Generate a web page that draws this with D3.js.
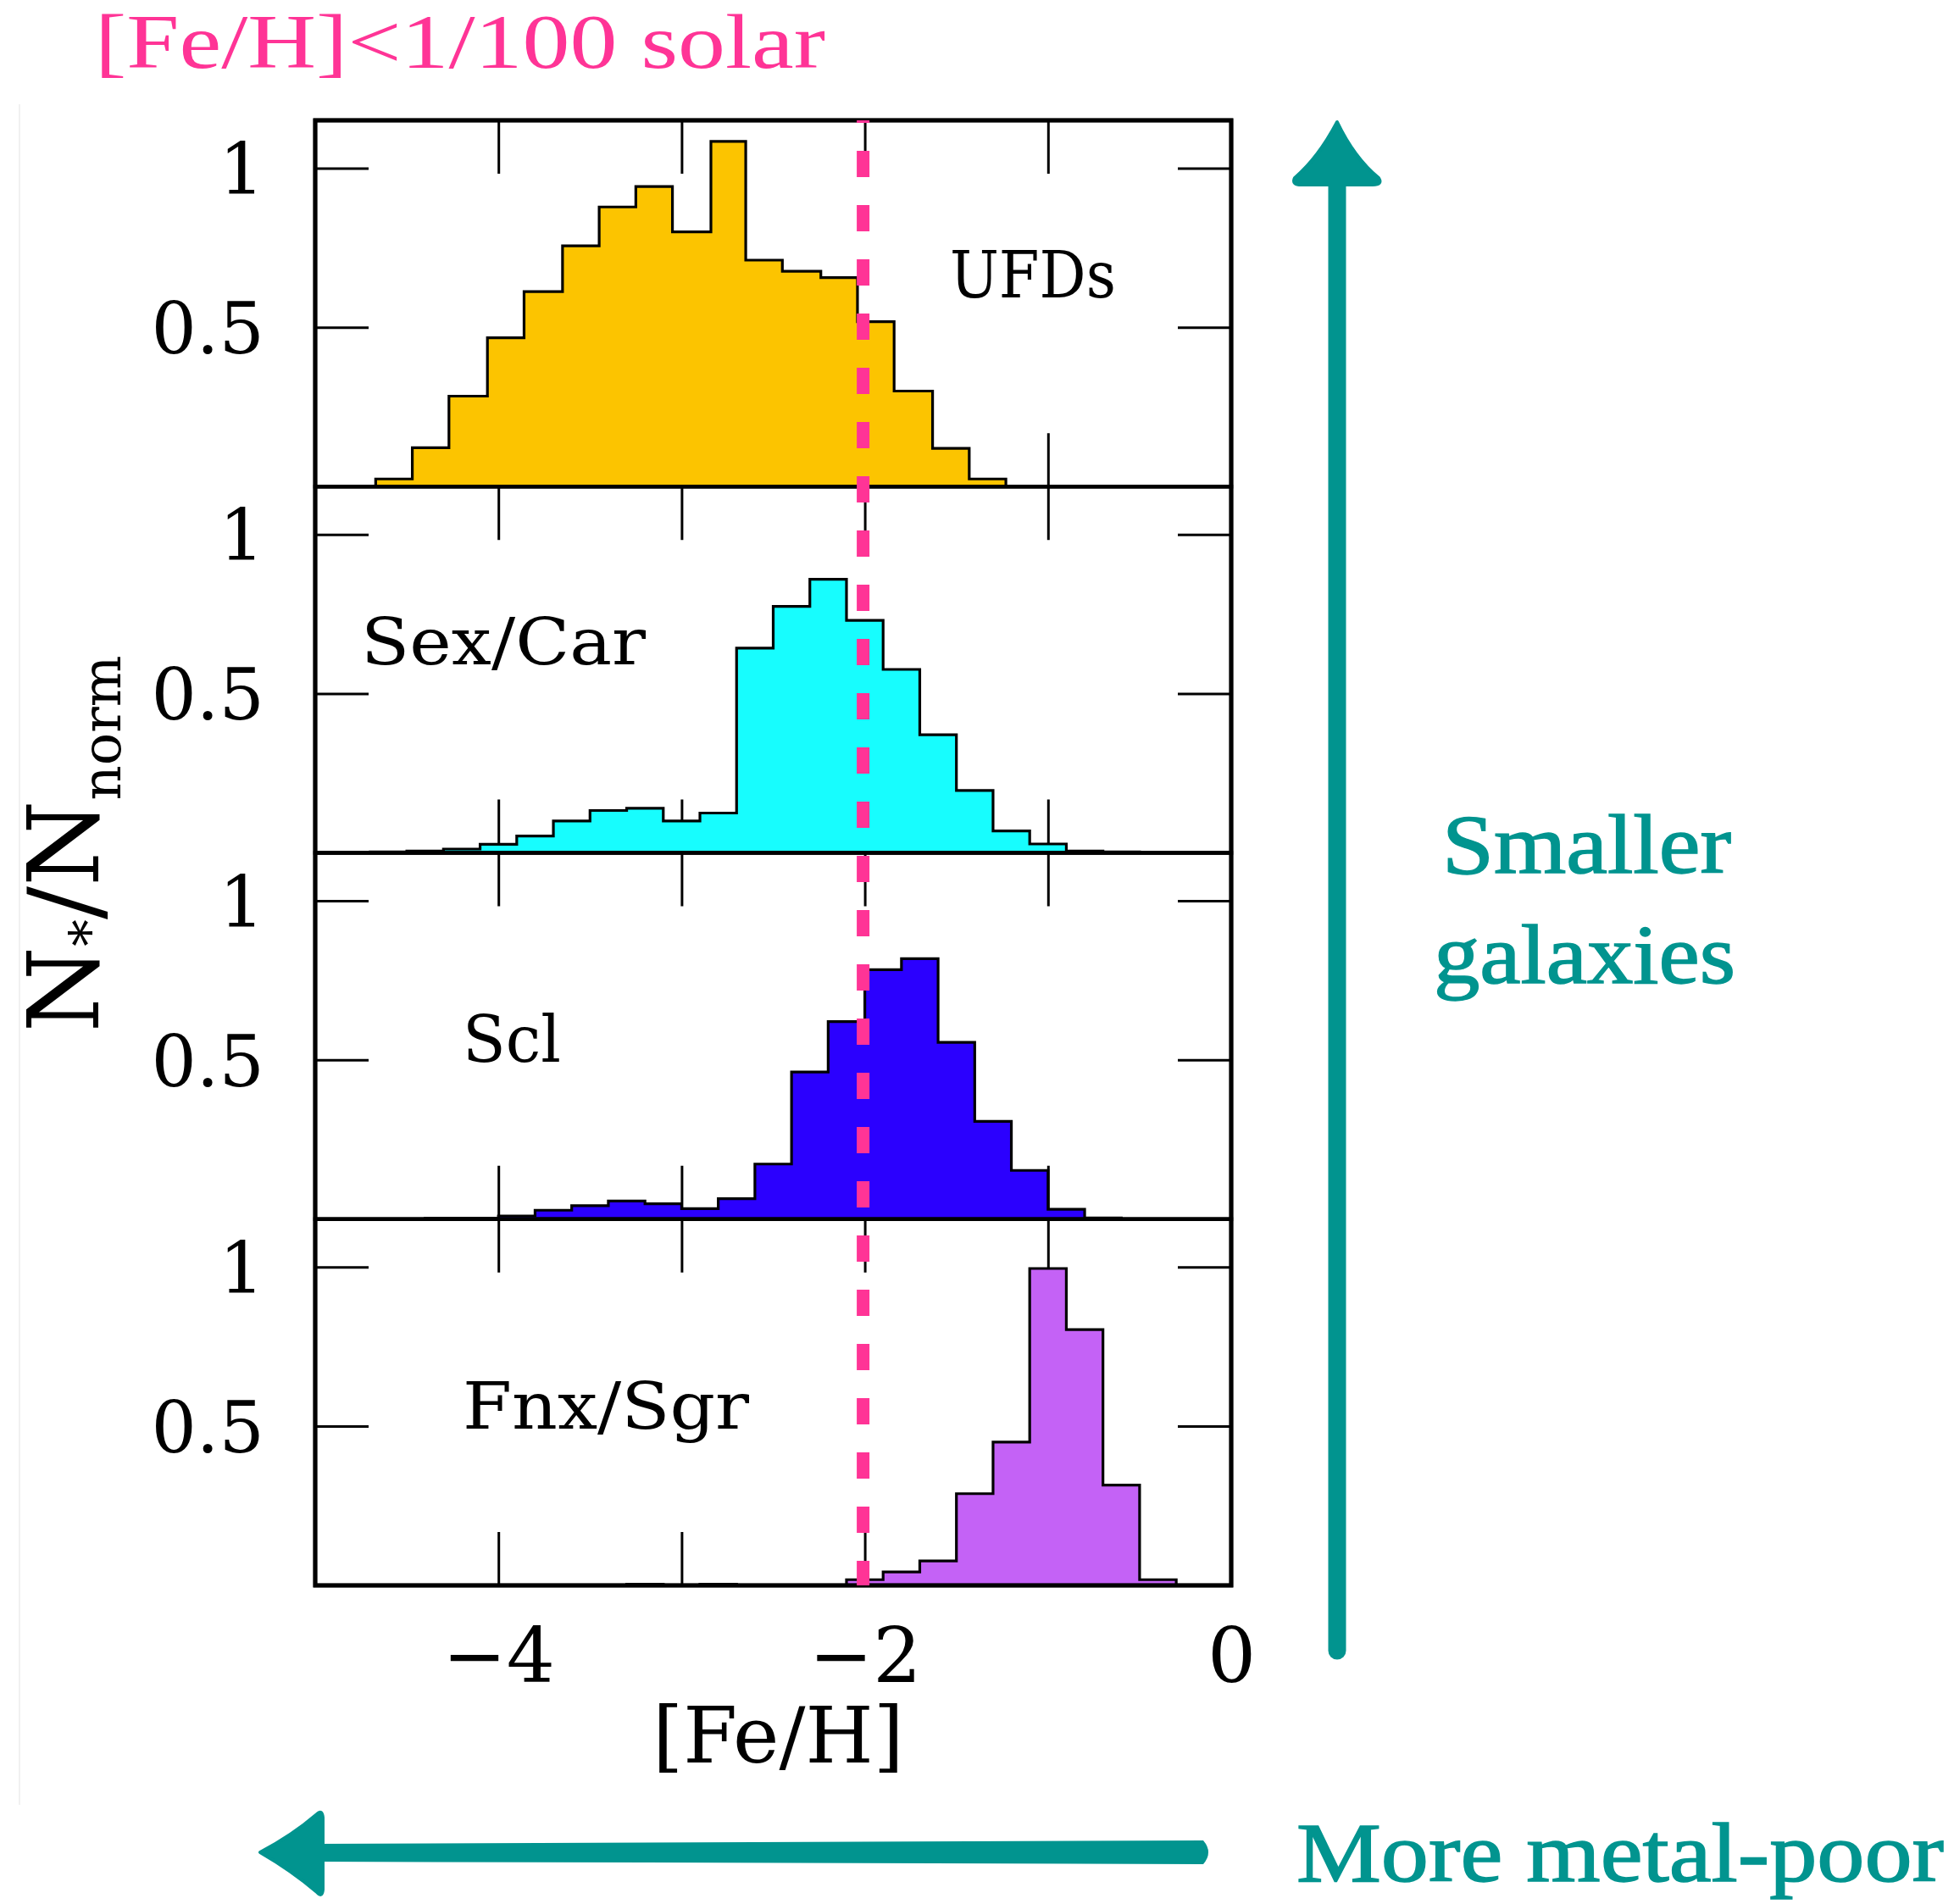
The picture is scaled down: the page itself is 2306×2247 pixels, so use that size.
<!DOCTYPE html>
<html>
<head>
<meta charset="utf-8">
<script src="https://cdn.jsdelivr.net/npm/d3@7"></script>
<style>
  body { margin: 0; background: #fff; }
</style>
</head>
<body>
<div id="chart"></div>
<script>
// Data
const panelNames = ["UFDs", "Sex/Car", "Scl", "Fnx/Sgr"];

const ufdEdges = [-4.67, -4.47, -4.27, -4.06, -3.86, -3.65, -3.45, -3.25, -3.05, -2.84, -2.65, -2.45, -2.24, -2.04, -1.84, -1.63, -1.43, -1.23];
const ufdValues = [0.024, 0.122, 0.284, 0.467, 0.612, 0.756, 0.878, 0.942, 0.8, 1.084, 0.711, 0.676, 0.656, 0.518, 0.3, 0.12, 0.024];

const sexCarEdges = [-4.7, -4.5, -4.3, -4.1, -3.9, -3.7, -3.5, -3.3, -3.1, -2.9, -2.7, -2.5, -2.3, -2.1, -1.9, -1.7, -1.5, -1.3, -1.1, -0.9, -0.7, -0.5];
const sexCarValues = [0.003, 0.006, 0.012, 0.027, 0.053, 0.1, 0.133, 0.14, 0.1, 0.125, 0.643, 0.774, 0.859, 0.73, 0.576, 0.371, 0.196, 0.069, 0.028, 0.006, 0.003];

const sclEdges = [-4.4, -4.2, -4.0, -3.8, -3.6, -3.4, -3.2, -3.0, -2.8, -2.6, -2.4, -2.2, -2.0, -1.8, -1.6, -1.4, -1.2, -1.0, -0.8, -0.6];
const sclValues = [0.003, 0.003, 0.01, 0.028, 0.042, 0.057, 0.048, 0.033, 0.064, 0.173, 0.462, 0.62, 0.783, 0.818, 0.555, 0.307, 0.153, 0.031, 0.004];

const fnxEdges = [-3.3, -3.1, -2.9, -2.7, -2.5, -2.3, -2.1, -1.9, -1.7, -1.5, -1.3, -1.1, -0.9, -0.7, -0.5, -0.3];
const fnxValues = [0.004, 0, 0.004, 0, 0, 0, 0.018, 0.042, 0.077, 0.288, 0.45, 0.995, 0.803, 0.315, 0.018];

// label anchor (data coords) for each panel name
const labelX = [-1.536, -4.75, -4.195, -4.195];
const labelY = [0.594, 0.592, 0.494, 0.492];

const xTicks = [-4, -3, -2, -1];
const xTickLabels = [-4, -2, 0];
const yTicks = [0.5, 1];
const metalCut = -2; // [Fe/H] = -2, i.e. 1/100 solar

function draw() {
  const series = [
    { edges: ufdEdges, values: ufdValues, fill: "#fcc400" },
    { edges: sexCarEdges, values: sexCarValues, fill: "#17fdfe" },
    { edges: sclEdges, values: sclValues, fill: "#2b00fe" },
    { edges: fnxEdges, values: fnxValues, fill: "#c462f6" },
  ];

  // Dimensions
  const dims = { width: 2306, height: 2247, left: 372, right: 1453, top: 142, bottom: 1871 };
  const panelH = (dims.bottom - dims.top) / series.length;
  const tickLen = 63;
  const serif = "'DejaVu Serif', serif";
  const teal = "#01948f";
  const pink = "#ff3496";

  const svg = d3
    .select("#chart")
    .append("svg")
    .attr("width", dims.width)
    .attr("height", dims.height);

  svg.append("rect").attr("width", dims.width).attr("height", dims.height).attr("fill", "#fff");

  // faint edge of the pasted figure
  svg.append("line")
    .attr("x1", 23).attr("x2", 23).attr("y1", 123).attr("y2", 2130)
    .attr("stroke", "#f1f1f1").attr("stroke-width", 2);

  // Scales
  const xScale = d3.scaleLinear().domain([-5, 0]).range([dims.left, dims.right]);

  series.forEach((s, i) => {
    const top = dims.top + i * panelH;
    const bot = top + panelH;
    const yScale = d3.scaleLinear().domain([0, 1.15]).range([bot, top]);
    const panel = svg.append("g");

    // ticks (drawn under the histograms)
    const tickStyle = (g) => {
      g.select(".domain").remove();
      g.selectAll("line").attr("stroke", "#000").attr("stroke-width", 3);
    };
    panel.append("g").attr("transform", `translate(0,${bot})`)
      .call(d3.axisTop(xScale).tickValues(xTicks).tickSize(tickLen).tickFormat(""))
      .call(tickStyle);
    panel.append("g").attr("transform", `translate(0,${top})`)
      .call(d3.axisBottom(xScale).tickValues(xTicks).tickSize(tickLen).tickFormat(""))
      .call(tickStyle);
    panel.append("g").attr("transform", `translate(${dims.left},0)`)
      .call(d3.axisRight(yScale).tickValues(yTicks).tickSize(tickLen).tickFormat(""))
      .call(tickStyle);
    panel.append("g").attr("transform", `translate(${dims.right},0)`)
      .call(d3.axisLeft(yScale).tickValues(yTicks).tickSize(tickLen).tickFormat(""))
      .call(tickStyle);

    // y tick labels
    const yLab = panel.append("g").attr("transform", `translate(${dims.left},0)`)
      .call(d3.axisLeft(yScale).tickValues(yTicks).tickSize(0).tickPadding(60)
        .tickFormat((d) => (d === 1 ? "1" : "0.5")));
    yLab.select(".domain").remove();
    yLab.selectAll("text")
      .attr("font-family", serif).attr("font-size", 84).attr("fill", "#000")
      .attr("dy", "0.36em");

    // histogram
    const pts = [[-5, 0], [s.edges[0], 0]];
    s.values.forEach((v, k) => {
      pts.push([s.edges[k], v], [s.edges[k + 1], v]);
    });
    pts.push([s.edges[s.edges.length - 1], 0], [0, 0]);

    const lineGenerator = d3.line()
      .x((d) => xScale(d[0]))
      .y((d) => yScale(d[1]));

    panel.append("path")
      .datum(pts)
      .attr("d", lineGenerator)
      .attr("fill", s.fill)
      .attr("stroke", "#000")
      .attr("stroke-width", 3.2)
      .attr("stroke-linejoin", "miter");

    // panel box
    panel.append("rect")
      .attr("x", dims.left).attr("y", top)
      .attr("width", dims.right - dims.left).attr("height", panelH)
      .attr("fill", "none").attr("stroke", "#000").attr("stroke-width", 4.5);

    // panel name
    const nameLen = [196, 336, 116, 338];
    panel.append("text")
      .attr("x", xScale(labelX[i])).attr("y", yScale(labelY[i]))
      .attr("font-family", serif).attr("font-size", 76)
      .attr("textLength", nameLen[i]).attr("lengthAdjust", "spacingAndGlyphs")
      .attr("fill", "#000")
      .text(panelNames[i]);
  });

  // outer frame
  svg.append("rect")
    .attr("x", dims.left).attr("y", dims.top)
    .attr("width", dims.right - dims.left).attr("height", dims.bottom - dims.top)
    .attr("fill", "none").attr("stroke", "#000").attr("stroke-width", 5);

  // x tick labels
  const xLab = svg.append("g").attr("transform", `translate(0,${dims.bottom})`)
    .call(d3.axisBottom(xScale).tickValues(xTickLabels).tickSize(0).tickPadding(50)
      .tickFormat((d) => (d < 0 ? "\u2212" + Math.abs(d) : String(d))));
  xLab.select(".domain").remove();
  xLab.selectAll("text").attr("font-family", serif).attr("font-size", 90).attr("fill", "#000");

  // x title
  svg.append("text")
    .attr("x", (dims.left + dims.right) / 2 + 6).attr("y", 2080)
    .attr("text-anchor", "middle")
    .attr("font-family", serif).attr("font-size", 92).attr("fill", "#000")
    .text("[Fe/H]");

  // y title
  const yTitle = svg.append("text")
    .attr("transform", "translate(116,996) rotate(-90)")
    .attr("text-anchor", "middle")
    .attr("font-family", serif).attr("font-size", 116).attr("fill", "#000");
  yTitle.append("tspan").text("N");
  yTitle.append("tspan").attr("font-size", 64).attr("dy", 12).text("*");
  yTitle.append("tspan").attr("dy", -12).text("/N");
  yTitle.append("tspan").attr("font-size", 64).attr("dy", 26).text("norm");

  // dashed metallicity cut
  svg.append("line")
    .attr("x1", xScale(metalCut) - 2).attr("x2", xScale(metalCut) - 2)
    .attr("y1", dims.top).attr("y2", dims.bottom)
    .attr("stroke", pink).attr("stroke-width", 15)
    .attr("stroke-dasharray", "31 33").attr("stroke-dashoffset", 28);

  // annotations
  svg.append("text")
    .attr("x", 112).attr("y", 80)
    .attr("font-family", "'Liberation Serif', serif").attr("font-size", 90)
    .attr("textLength", 862).attr("lengthAdjust", "spacingAndGlyphs")
    .attr("fill", pink)
    .text("[Fe/H]<1/100 solar");

  const teals = [
    { t: "Smaller", x: 1702, y: 1030, len: 341 },
    { t: "galaxies", x: 1692, y: 1160, len: 356 },
    { t: "More metal-poor", x: 1530, y: 2220, len: 764 },
  ];
  svg.selectAll(".teal")
    .data(teals)
    .join("text")
    .attr("class", "teal")
    .attr("x", (d) => d.x).attr("y", (d) => d.y)
    .attr("font-family", "'Liberation Serif', serif").attr("font-size", 100)
    .attr("textLength", (d) => d.len).attr("lengthAdjust", "spacingAndGlyphs")
    .attr("fill", teal).attr("stroke", teal).attr("stroke-width", 1.5)
    .text((d) => d.t);

  // vertical arrow
  svg.append("line")
    .attr("x1", 1578).attr("x2", 1578).attr("y1", 214).attr("y2", 1948)
    .attr("stroke", teal).attr("stroke-width", 21).attr("stroke-linecap", "round");
  svg.append("path")
    .attr("d", "M1578,144 Q1556,186 1528,210 Q1524,218 1536,218 L1620,218 Q1632,218 1627,210 Q1598,186 1578,144 Z")
    .attr("fill", teal).attr("stroke", teal).attr("stroke-width", 4).attr("stroke-linejoin", "round");

  // horizontal arrow
  svg.append("path")
    .attr("d", "M375,2176 L1420,2172 Q1432,2186 1420,2200 L375,2197 Z")
    .attr("fill", teal);
  svg.append("path")
    .attr("d", "M307,2186 Q345,2166 374,2141 Q380,2135 381,2145 L381,2230 Q380,2240 374,2233 Q345,2208 307,2186 Z")
    .attr("fill", teal).attr("stroke", teal).attr("stroke-width", 4).attr("stroke-linejoin", "round");
}

draw();
</script>
</body>
</html>
